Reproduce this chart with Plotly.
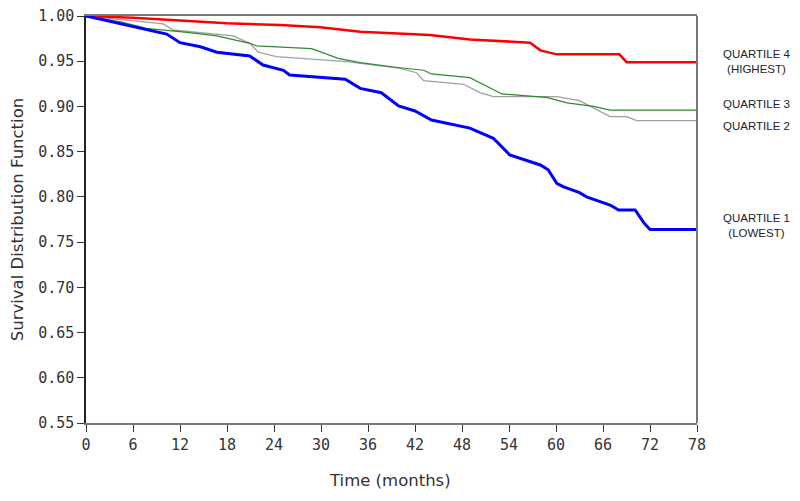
import plotly.graph_objects as go

# Quartile 4 (highest)
q4_t = [0, 6, 12, 18, 24.8, 29.9, 35, 43.9, 49, 56.7, 58, 60.1, 68.1, 69, 78]
q4_s = [1.0, 0.998, 0.995, 0.992, 0.990, 0.9875, 0.9827, 0.979, 0.974, 0.9705, 0.962, 0.9576, 0.9576, 0.949, 0.949]

# Quartile 3
q3_t = [0, 4.3, 7.7, 10.3, 12.9, 16.7, 20.9, 21.8, 24.8, 28.8, 32.2, 35, 40.1, 43.1, 44.1, 49, 53.1, 58.8, 61.4, 64.8, 66.9, 78]
q3_s = [1.0, 0.9937, 0.9864, 0.9845, 0.982, 0.978, 0.9698, 0.967, 0.966, 0.9639, 0.9532, 0.9484, 0.9428, 0.940, 0.9359, 0.9318, 0.9138, 0.910, 0.904, 0.900, 0.896, 0.896]

# Quartile 2
q2_t = [0, 9.9, 11.1, 18.8, 20.9, 22.0, 24.3, 27.3, 33.3, 40.1, 42.2, 43.1, 48.2, 50.3, 52.0, 60.1, 63.0, 66.9, 69.0, 70.3, 78]
q2_s = [1.0, 0.9912, 0.9845, 0.978, 0.9698, 0.960, 0.955, 0.9532, 0.9495, 0.942, 0.9373, 0.9285, 0.9245, 0.9152, 0.9108, 0.9108, 0.9064, 0.8887, 0.8887, 0.8843, 0.8843]

# Quartile 1 (lowest)
q1_t = [0, 7.7, 10.3, 12, 14.6, 16.7, 20.9, 22.6, 25.2, 26, 33.1, 35, 37.7, 39.9, 42, 44.1, 47.3, 49, 52, 54.1, 58, 59, 60.1, 60.9, 63, 63.9, 66.9, 68, 70.1, 71.2, 72, 78]
q1_s = [1.0, 0.9845, 0.980, 0.9705, 0.966, 0.960, 0.9558, 0.9458, 0.940, 0.9348, 0.930, 0.920, 0.9152, 0.9005, 0.895, 0.885, 0.8795, 0.876, 0.8648, 0.8463, 0.8353, 0.830, 0.815, 0.8113, 0.8047, 0.800, 0.791, 0.7855, 0.7855, 0.7715, 0.764, 0.764]

x_ticks = [0, 6, 12, 18, 24, 30, 36, 42, 48, 54, 60, 66, 72, 78]
y_ticks = [0.55, 0.60, 0.65, 0.70, 0.75, 0.80, 0.85, 0.90, 0.95, 1.00]

labels = ["QUARTILE 4<br>(HIGHEST)", "QUARTILE 3", "QUARTILE 2", "QUARTILE 1<br>(LOWEST)"]
label_y = [0.9495, 0.9027, 0.878, 0.768]

fig = go.Figure()
fig.add_trace(go.Scatter(x=q2_t, y=q2_s, mode="lines", line=dict(color="#a0a0a0", width=1.3), name="Q2"))
fig.add_trace(go.Scatter(x=q3_t, y=q3_s, mode="lines", line=dict(color="#2e8b2e", width=1.2), name="Q3"))
fig.add_trace(go.Scatter(x=q4_t, y=q4_s, mode="lines", line=dict(color="#ff0000", width=2.5), name="Q4"))
fig.add_trace(go.Scatter(x=q1_t, y=q1_s, mode="lines", line=dict(color="#0000ff", width=3), name="Q1"))

tickfont = dict(family="DejaVu Sans Mono", size=15, color="#333333")
titlefont = dict(family="DejaVu Sans", size=16.5, color="#333333")

# page body has an 8px margin, so the figure is sized to fit inside 800x501
fig.update_layout(
    width=784, height=485,
    margin=dict(l=78, r=95, t=8, b=70),
    paper_bgcolor="white", plot_bgcolor="white",
    showlegend=False,
    xaxis=dict(range=[0, 78], tickvals=x_ticks, ticktext=[str(v) for v in x_ticks],
               showgrid=False, zeroline=False, showline=True, linecolor="#777777", linewidth=1.5,
               mirror=True, ticks="outside", ticklen=7, tickcolor="#333333",
               tickfont=tickfont, automargin=False, ticklabeloverflow="allow"),
    yaxis=dict(range=[0.55, 1.0], tickvals=y_ticks, ticktext=[f"{v:.2f}" for v in y_ticks],
               showgrid=False, zeroline=False, showline=True, linecolor="#222222", linewidth=1.5,
               mirror=False, ticks="outside", ticklen=7, tickcolor="#333333",
               tickfont=tickfont, automargin=False, ticklabeloverflow="allow",
               title=dict(text="Survival Distribution Function", font=titlefont)),
)

fig.add_annotation(x=0.4975, xref="paper", y=0, yref="paper", yshift=-57, text="Time (months)",
                   showarrow=False, xanchor="center", yanchor="middle", font=titlefont)

fig.add_shape(type="line", xref="paper", yref="paper", x0=1, x1=1, y0=0, y1=1,
              line=dict(color="#777777", width=2))

for txt, yv in zip(labels, label_y):
    fig.add_annotation(x=1.098, xref="paper", y=yv, yref="y", text=txt, showarrow=False,
                       xanchor="center", yanchor="middle",
                       font=dict(family="Arial", size=11.5, color="#222222"))

fig.write_html("out.html")
